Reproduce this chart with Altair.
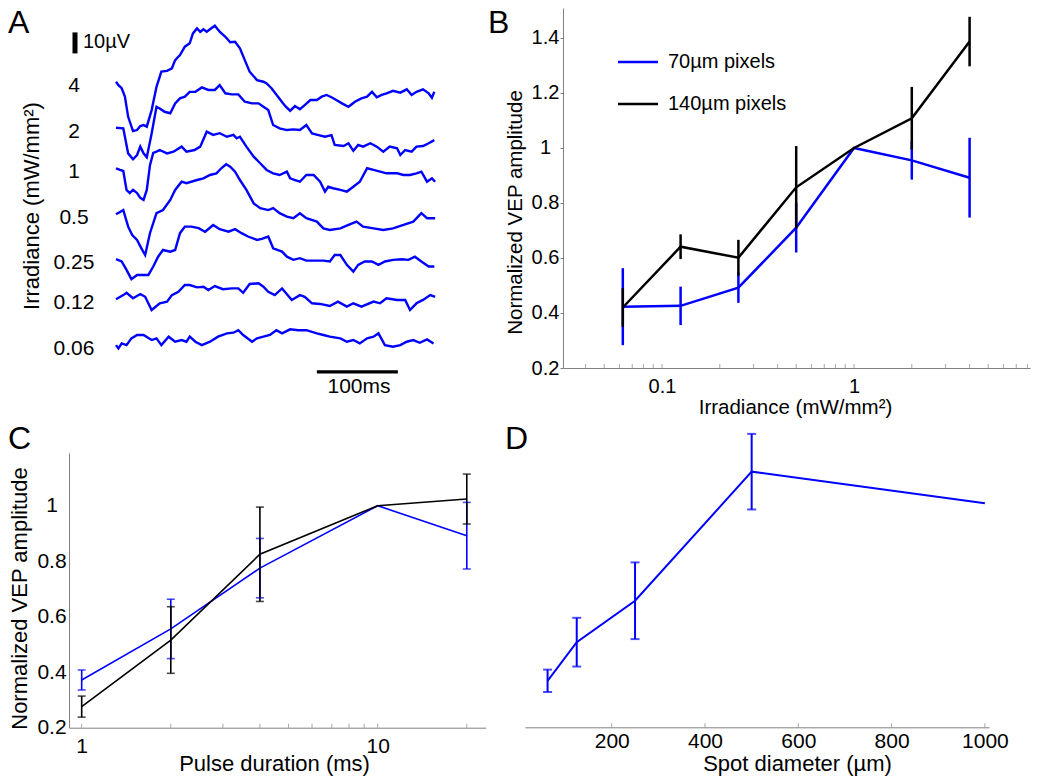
import altair as alt
import pandas as pd

W, H = 1034, 769
FONT = "Liberation Sans"
BLUE = "#0000ff"
BLACK = "#000000"
AXIS_GREY = "#808080"

# ---------------- Panel A : VEP traces (time in ms, amplitude in uV) ----------------
trace_labels = ["4", "2", "1", "0.5", "0.25", "0.12", "0.06"]
trace_offsets_uV = [132.5, 110.6, 91.3, 69.4, 48.0, 28.9, 7.1]

t_4 = [0, 3, 7, 11, 15, 21, 26, 30, 34, 38, 44, 50, 56, 63, 69, 73, 79, 85, 91, 95, 100, 104, 108, 112, 116,
       122, 128, 135, 141, 147, 153, 159, 165, 174, 182, 186, 192, 200, 209, 215, 221, 227, 233, 240, 248,
       254, 260, 266, 272, 279, 287, 295, 303, 310, 316, 322, 328, 334, 342, 351, 359, 365, 371, 379, 386, 390, 393]
v_4 = [0, -1.6, -3.1, -7.1, -16.7, -23.5, -23, -21.1, -20.6, -21.4, -13.5, -2.4, 4.8, 5.2, 6.4, 10.3, 12.7, 16.7,
       18.3, 23, 25.4, 23.8, 25, 23.8, 25, 26.7, 23.8, 21.4, 18.8, 19, 15.9, 10.3, 4.8, 0.8, 0, -0.8, -3.1, -7.1,
       -11.6, -13.8, -11.6, -13.1, -11.1, -8.7, -8.7, -7.1, -6.3, -7.4, -8.7, -10.3, -11.9, -9.5, -7.9, -7.1, -4.8,
       -7.4, -6.3, -5.5, -4.3, -5.2, -3.6, -6.3, -4.8, -3.6, -5.5, -7.6, -4.8]

t_2 = [0, 9, 15, 21, 26, 30, 34, 38, 44, 50, 54, 60, 67, 73, 79, 85, 91, 98, 106, 114, 122, 128, 135, 143, 151,
       159, 168, 176, 182, 188, 194, 202, 211, 219, 227, 235, 242, 250, 258, 266, 270, 281, 287, 293, 299, 305,
       314, 322, 330, 338, 347, 351, 357, 365, 371, 379, 386, 393]
v_2 = [0, -0.3, -12.2, -15, -13, -9, -12.2, -14.1, -2.7, 10, 9.2, 7.6, 6.9, 11.6, 14, 14.8, 17.1, 17.1, 19.2, 18,
       18, 20.3, 16.4, 15.9, 15.9, 12.4, 11.6, 11.6, 10, 8.4, 1.3, -0.3, -1.1, -0.8, -1.1, 1.3, -2.7, -3.5, -4.3,
       -3.5, -8.2, -8.7, -7.4, -11, -8.2, -9, -7.4, -9, -11.4, -9, -9.8, -13, -10.6, -11.4, -9, -8.7, -7.4, -5.9]

t_1 = [0, 5, 9, 13, 17, 21, 26, 30, 34, 38, 42, 46, 50, 54, 63, 71, 81, 87, 97, 104, 112, 120, 128, 137, 145,
       149, 153, 161, 170, 178, 186, 194, 202, 211, 215, 221, 227, 235, 244, 252, 258, 262, 268, 277, 285, 293,
       301, 310, 318, 326, 334, 347, 355, 363, 371, 377, 384, 390, 394]
v_1 = [0, -0.8, -1.3, -10.3, -11.8, -10.3, -11.8, -14.1, -15.1, -10.3, 1.6, 7.3, 7.9, 8.7, 7.1, 7.9, 10.3, 7.9,
       8.7, 10.3, 17.4, 15.9, 16.7, 15, 15.9, 14.3, 15, 10.3, 5.5, 2.4, -0.8, -2.4, -3.2, -1.6, -4.8, -5.6, -6.4,
       -3.2, -3.2, -6.4, -11.1, -8.8, -9.5, -10.3, -11.1, -8.8, -6.4, 0, -0.8, -1.6, -2.4, -2.4, -3.2, -3.2, -2.4,
       -1.6, -6.4, -4.8, -6.4]

t_05 = [0, 5, 9, 15, 20, 26, 31, 36, 42, 50, 58, 67, 73, 81, 87, 100, 108, 116, 124, 130, 136, 141, 147, 153,
        161, 170, 178, 188, 194, 202, 211, 219, 227, 235, 248, 256, 264, 277, 287, 297, 305, 318, 330, 342, 355,
        367, 377, 384, 394]
v_05 = [0, 1.1, 2, -5.9, -9.9, -12.2, -16, -19.4, -8.9, 0.5, 2, 6.8, 11.6, 15.5, 14.8, 16.3, 17.1, 18.7, 19.5,
        21.9, 23.8, 22.7, 20.3, 16.3, 11.6, 5.2, 2.9, 2, 2.9, 0.5, -1.1, -1.9, 0.5, -1.9, -3.5, -6.7, -7.5, -6.7,
        -5.1, -3.5, -5.9, -6.7, -7.5, -6.7, -5.1, -3.5, 0.5, -1.9, -1.9]

t_025 = [0, 7, 13, 19, 26, 34, 40, 46, 52, 58, 67, 73, 79, 85, 93, 102, 110, 120, 128, 139, 147, 155, 163, 174,
         180, 188, 194, 205, 211, 219, 227, 235, 246, 256, 264, 270, 277, 285, 293, 299, 307, 316, 324, 332, 342,
         353, 361, 369, 377, 386, 393]
v_025 = [0, -1.1, -5.1, -9.5, -7.5, -7.5, -7.5, -3.5, 1.2, 4.4, 3.6, 4.4, 12.4, 15.5, 15.5, 14.8, 13.1, 16.3,
         14.3, 13.1, 14.3, 12.4, 10.8, 9.2, 9.7, 10.8, 5.2, 3.6, 1.2, -0.3, 0.5, -0.7, -0.7, -0.7, -1.1, 2, 2, -2.7,
         -5.9, -2.7, -1.1, -1.1, -2.7, -1.1, -0.3, 0, -0.3, 1.2, -1.1, -3.5, -3.5]

t_012 = [0, 9, 13, 21, 30, 36, 44, 54, 63, 69, 77, 85, 91, 100, 108, 114, 122, 132, 143, 151, 157, 165, 176, 182,
         188, 196, 205, 217, 227, 233, 242, 252, 264, 274, 285, 293, 303, 318, 326, 334, 347, 357, 363, 371, 379,
         388, 394]
v_012 = [0, 2, 3.1, 0.5, 2.5, 1.2, -5.1, -1.9, -1.1, 2, 3.6, 6.8, 6.8, 5.7, 6, 4.4, 6.3, 4.8, 5.2, 5.2, 3.1, 7.3,
         7.6, 6, 3.6, 2, 5.2, -0.3, 2, 1.2, -1.9, -2.2, -3.2, -1.1, -3.5, -1.9, -3.5, -1.1, -1.9, 0.5, -0.3, -0.3,
         -5.1, -1.9, -0.3, 2, 1.2]

t_006 = [0, 3, 7, 13, 19, 26, 34, 44, 50, 56, 65, 73, 81, 87, 91, 98, 106, 116, 126, 137, 145, 151, 157, 168,
         174, 182, 190, 198, 205, 215, 225, 235, 248, 256, 264, 277, 285, 293, 301, 310, 318, 324, 332, 342, 351,
         359, 367, 375, 384, 392]
v_006 = [0, -1.6, 0.8, 0, 3.2, 4.8, 4.8, 2.4, 3.2, 0, 4, 1.6, 2.4, 1.6, 4, 1.6, 0, 1.6, 4, 5.6, 5.9, 7.1, 4.8,
         1.6, 3.2, 4, 4.8, 7.1, 5.6, 7.5, 7.1, 7.1, 5.6, 4.8, 4, 3.2, 1.6, 2.4, 0.8, 3.2, 4, 5.6, 0, -0.8, 0, 1.6,
         2.4, 1.1, 2.7, 0.8]

trace_times = [t_4, t_2, t_1, t_05, t_025, t_012, t_006]
trace_values = [v_4, v_2, v_1, v_05, v_025, v_012, v_006]
scale_bar_uV = 10
scale_bar_ms = 100

# ---------------- Panel B : irradiance ----------------
irradiance = [0.0625, 0.125, 0.25, 0.5, 1, 2, 4]
b_70 = [0.423, 0.426, 0.492, 0.71, 1.0, 0.955, 0.892]
b_70_err = [0.14, 0.07, 0.055, 0.09, 0, 0.07, 0.145]
b_140 = [0.42, 0.641, 0.601, 0.857, 1.0, 1.108, 1.387]
b_140_err = [0.07, 0.045, 0.065, 0.15, 0, 0.114, 0.09]
b_xticks = [0.04, 0.05, 0.06, 0.07, 0.08, 0.09, 0.1, 0.2, 0.3, 0.4, 0.5, 0.6, 0.7, 0.8, 0.9,
            1, 2, 3, 4, 5, 6, 7, 8]
b_yticks = [0.2, 0.4, 0.6, 0.8, 1.0, 1.2, 1.4]

# ---------------- Panel C : pulse duration ----------------
duration = [1, 2, 4, 10, 20]
c_70 = [0.372, 0.556, 0.775, 1.0, 0.892]
c_70_err = [0.036, 0.107, 0.107, 0, 0.12]
c_140 = [0.276, 0.516, 0.825, 1.0, 1.024]
c_140_err = [0.038, 0.12, 0.17, 0, 0.09]
c_xticks = [1, 2, 3, 4, 5, 6, 7, 8, 9, 10, 20]
c_yticks = [0.2, 0.4, 0.6, 0.8, 1.0]

# ---------------- Panel D : spot diameter ----------------
spot = [62.5, 125, 250, 500, 1000]
d_70 = [0.366, 0.504, 0.652, 1.113, 1.0]
d_70_err = [0.04, 0.087, 0.137, 0.135, 0]
d_xticks = [200, 400, 600, 800, 1000]

series_names = ["70µm pixels", "140µm pixels"]
series_colors = [BLUE, BLACK]
panel_letters = ["A", "B", "C", "D"]
y_floor = 0.2  # bottom of every amplitude axis


def ax(**kw):
    base = dict(grid=False, domainColor=AXIS_GREY, tickColor=AXIS_GREY, domainWidth=1, tickWidth=1,
                labelColor="black", titleColor="black", labelFont=FONT, titleFont=FONT,
                titleFontWeight="normal", labelOverlap=False, labelFlush=False)
    base.update(kw)
    return alt.Axis(**base)


def frame(xs, ys, errs):
    df = pd.DataFrame({"x": xs, "y": ys, "err": errs})
    df["lo"] = df["y"] - df["err"]
    df["hi"] = df["y"] + df["err"]
    return df


def series_layers(df, xs, ys, axx, axy, color, lw, cap=None):
    base = alt.Chart(df)
    X = alt.X("x:Q", scale=xs, axis=axx)
    layers = [base.mark_line(color=color, strokeWidth=lw).encode(
        x=X, y=alt.Y("y:Q", scale=ys, axis=axy))]
    eb = base.transform_filter("datum.err > 0")
    layers.append(eb.mark_rule(color=color, strokeWidth=lw).encode(
        x=X, y=alt.Y("lo:Q", scale=ys, axis=axy), y2="hi:Q"))
    if cap:
        for f in ("lo", "hi"):
            layers.append(eb.mark_tick(orient="horizontal", color=color, size=cap, thickness=lw).encode(
                x=X, y=alt.Y(f + ":Q", scale=ys, axis=axy)))
    return layers


def inward_ticks(values, xs, ys, axx, axy, length=4):
    """Tick marks pointing up into the plot, drawn at the axis tick values."""
    df = pd.DataFrame({"x": values, "y": [y_floor] * len(values)})
    return alt.Chart(df).mark_tick(orient="vertical", color=AXIS_GREY, size=length, thickness=1,
                                   yOffset=-length / 2).encode(
        x=alt.X("x:Q", scale=xs, axis=axx), y=alt.Y("y:Q", scale=ys, axis=axy))


def label(text, x, y, size, align="left", baseline="alphabetic", angle=0):
    return alt.Chart(pd.DataFrame({"text": [text]})).mark_text(
        font=FONT, fontSize=size, align=align, baseline=baseline, angle=angle, color="black"
    ).encode(x=alt.value(x), y=alt.value(y), text="text:N")


# ---------- Panel A ----------
rows = []
for lab, off, ts, vs in zip(trace_labels, trace_offsets_uV, trace_times, trace_values):
    for i, (t, v) in enumerate(zip(ts, vs)):
        rows.append({"trace": lab, "i": i, "t": t, "V": off + v})
dfA = pd.DataFrame(rows)
xA = alt.Scale(domain=[0, 400], range=[108, 432])
yA = alt.Scale(domain=[0, 170], range=[352, -5])

a_lines = alt.Chart(dfA).mark_line(color=BLUE, strokeWidth=2.4).encode(
    x=alt.X("t:Q", scale=xA, axis=None), y=alt.Y("V:Q", scale=yA, axis=None),
    detail="trace:N", order="i:Q")
a_labels = alt.Chart(pd.DataFrame({"label": trace_labels, "V": trace_offsets_uV})).mark_text(
    font=FONT, fontSize=21, align="center", baseline="middle", dy=4, color="black"
).encode(x=alt.value(66), y=alt.Y("V:Q", scale=yA, axis=None), text="label:N")
a_sbv = alt.Chart(pd.DataFrame({"v0": [146.0], "v1": [146.0 + scale_bar_uV]})).mark_rule(
    color="black", strokeWidth=5).encode(x=alt.value(67), y=alt.Y("v0:Q", scale=yA, axis=None), y2="v1:Q")
a_sbt = alt.Chart(pd.DataFrame({"t0": [248.0], "t1": [248.0 + scale_bar_ms], "V": [-5.7]})).mark_rule(
    color="black", strokeWidth=3.3).encode(x=alt.X("t0:Q", scale=xA, axis=None), x2="t1:Q",
                                            y=alt.Y("V:Q", scale=yA, axis=None))
panelA = alt.layer(a_lines, a_labels, a_sbv, a_sbt)

# ---------- Panel B ----------
xB = alt.Scale(type="log", domain=[0.03051, 8.254], range=[555, 1022])
yB = alt.Scale(domain=[0.2, 1.509], range=[360, 0], zero=False)
axBx = ax(orient="bottom", offset=360 - H, values=b_xticks, ticks=False,
          labelExpr="datum.value == 0.1 ? '0.1' : datum.value == 1 ? '1' : ''",
          labelPadding=8, labelFontSize=20,
          title="Irradiance (mW/mm²)", titleFontSize=20.5, titleX=787, titleY=45,
          titleAlign="center", titleBaseline="alphabetic")
axBy = ax(orient="left", offset=-555, values=b_yticks, format="~g", tickSize=3, labelPadding=15,
          labelAlign="center", labelBaseline="middle", labelFontSize=20,
          title="Normalized VEP amplitude", titleFontSize=20.5, titleAngle=270, titleX=-48, titleY=204,
          titleAlign="center", titleBaseline="middle")
panelB = alt.layer(
    inward_ticks(b_xticks, xB, yB, axBx, axBy),
    *series_layers(frame(irradiance, b_70, b_70_err), xB, yB, axBx, axBy, BLUE, 2.5),
    *series_layers(frame(irradiance, b_140, b_140_err), xB, yB, axBx, axBy, BLACK, 2.5),
)

# ---------- Panel C ----------
xC = alt.Scale(type="log", domain=[0.906, 23.17], range=[61, 477.7])
yC = alt.Scale(domain=[0.2, 1.19], range=[719.7, 445], zero=False)
axCx = ax(orient="bottom", offset=719.7 - H, values=c_xticks, ticks=False,
          labelExpr="datum.value == 1 ? '1' : datum.value == 10 ? '10' : ''",
          labelPadding=8, labelFontSize=21,
          title="Pulse duration (ms)", titleFontSize=22, titleX=266, titleY=42.5,
          titleAlign="center", titleBaseline="alphabetic")
axCy = ax(orient="left", offset=-61, values=c_yticks, format="~g", ticks=False, labelPadding=17.5,
          labelAlign="center", labelBaseline="middle", labelFontSize=21,
          title="Normalized VEP amplitude", titleFontSize=22, titleAngle=270, titleX=-50, titleY=590,
          titleAlign="center", titleBaseline="middle")
panelC = alt.layer(
    inward_ticks(c_xticks, xC, yC, axCx, axCy),
    *series_layers(frame(duration, c_70, c_70_err), xC, yC, axCx, axCy, BLUE, 1.6, cap=8),
    *series_layers(frame(duration, c_140, c_140_err), xC, yC, axCx, axCy, BLACK, 1.6, cap=8),
)

# ---------- Panel D ----------
xD = alt.Scale(domain=[14.1, 1008.8], range=[517, 981], zero=False)
yD = alt.Scale(domain=[0.2, 1.269], range=[719.3, 420], zero=False)
axDx = ax(orient="bottom", offset=719.3 - H, values=d_xticks, format="d", ticks=False,
          labelPadding=3.5, labelFontSize=21,
          title="Spot diameter (µm)", titleFontSize=22, titleX=789, titleY=43.5,
          titleAlign="center", titleBaseline="alphabetic")
panelD = alt.layer(
    inward_ticks(d_xticks, xD, yD, axDx, None),
    *series_layers(frame(spot, d_70, d_70_err), xD, yD, axDx, None, BLUE, 2, cap=9),
)

# ---------- annotations ----------
annotations = [
    label(panel_letters[0], 0, 25, 32),
    label(panel_letters[1], 480, 25, 32),
    label(panel_letters[2], 0, 441, 32),
    label(panel_letters[3], 497, 441, 32),
    label("10µV", 75, 40, 20),
    label("100ms", 351, 385, 21, align="center"),
    label("Irradiance (mW/mm²)", 24, 198, 22, align="center", baseline="middle", angle=270),
]
for i, (name, col) in enumerate(zip(series_names, series_colors)):
    ly = 54 + 42 * i
    annotations.append(alt.Chart(pd.DataFrame({"s": [name]})).mark_rule(color=col, strokeWidth=2.5).encode(
        x=alt.value(610), x2=alt.value(650), y=alt.value(ly)))
    annotations.append(label(name, 660, ly, 20, baseline="middle"))

chart = alt.layer(panelA, panelB, panelC, panelD, *annotations).resolve_scale(
    x="independent", y="independent"
).properties(
    width=W, height=H, padding=0, autosize=alt.AutoSizeParams(type="none")
).configure_view(stroke=None).configure_text(font=FONT)

chart.save("out.html", embed_options={"renderer": "svg", "actions": False})
